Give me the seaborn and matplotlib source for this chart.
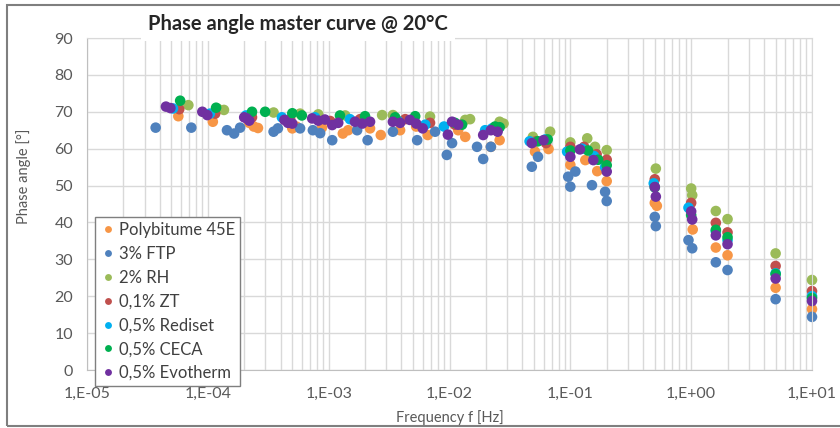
import numpy as np
import pandas as pd
import matplotlib
matplotlib.use("Agg")
import matplotlib.pyplot as plt
import seaborn as sns
from matplotlib.ticker import FuncFormatter, NullFormatter, LogLocator, MultipleLocator
from matplotlib.patches import Rectangle

# series names and colours (Excel style)
labels = ["Polybitume 45E", "3% FTP", "2% RH", "0,1% ZT",
          "0,5% Rediset", "0,5% CECA", "0,5% Evotherm"]
colors = ["#F79646", "#4F81BD", "#9BBB59", "#C0504D",
          "#00B0F0", "#00B050", "#7030A0"]
x_ticks = [1e-5, 1e-4, 1e-3, 1e-2, 1e-1, 1e0, 1e1]

# Polybitume 45E
pb_freq = [5.7e-5, 1.1e-4, 2.2e-4, 2.4e-4, 2.6e-4, 5.0e-4, 5.4e-4, 8.8e-4, 1.31e-3, 1.45e-3,
           2.2e-3, 2.7e-3, 3.9e-3, 5.3e-3, 6.6e-3, 1.18e-2, 1.35e-2, 2.2e-2, 2.6e-2, 0.051,
           0.066, 0.1, 0.133, 0.167, 0.2, 0.5, 0.52, 1.03, 1.6, 2.0, 5.0, 10.0]
pb_phase = [68.8, 67.3, 67.0, 66.0, 65.6, 65.5, 66.0, 65.7, 64.1, 65.0,
            65.5, 63.7, 65.0, 66.0, 63.7, 65.0, 63.2, 60.5, 62.3, 59.2,
            59.9, 55.6, 56.9, 53.9, 51.2, 45.3, 44.5, 38.1, 33.2, 31.1, 22.3, 16.5]

# 3% FTP
ftp_freq = [3.7e-5, 7.3e-5, 1.44e-4, 1.65e-4, 1.85e-4, 3.5e-4, 3.8e-4, 5.8e-4, 7.4e-4, 8.5e-4,
            1.07e-3, 1.72e-3, 2.1e-3, 3.4e-3, 5.4e-3, 7.6e-3, 9.5e-3, 1.05e-2, 1.69e-2, 1.9e-2,
            2.2e-2, 0.048, 0.054, 0.096, 0.1, 0.11, 0.151, 0.194, 0.2, 0.5,
            0.51, 0.95, 1.02, 1.6, 2.0, 5.0, 10.0]
ftp_phase = [65.7, 65.7, 65.0, 64.1, 65.7, 64.6, 65.5, 65.5, 65.0, 64.2,
             62.3, 65.0, 62.3, 64.6, 62.3, 64.6, 58.3, 61.5, 60.5, 57.2,
             60.5, 55.1, 57.8, 52.4, 49.7, 53.8, 50.1, 48.3, 45.8, 41.5,
             39.0, 35.2, 33.0, 29.2, 27.1, 19.2, 14.4]

# 2% RH
rh_freq = [6.9e-5, 1.21e-4, 1.36e-4, 2.3e-4, 3.5e-4, 5.8e-4, 8.2e-4, 1.37e-3, 2.77e-3, 3.4e-3,
           6.9e-3, 1.35e-2, 1.48e-2, 2.6e-2, 2.8e-2, 0.049, 0.068, 0.1, 0.138, 0.16,
           0.2, 0.51, 1.0, 1.02, 1.6, 2.0, 5.0, 10.0]
rh_phase = [71.8, 70.8, 70.5, 69.5, 69.8, 69.5, 69.3, 69.0, 69.1, 69.1,
            68.7, 67.8, 68.0, 67.3, 66.8, 63.2, 64.6, 61.7, 62.8, 60.5,
            59.6, 54.6, 49.2, 47.4, 43.1, 40.9, 31.6, 24.4]

# 0,1% ZT
zt_freq = [5.8e-5, 1.15e-4, 2.32e-4, 4.8e-4, 1.03e-3, 1.82e-3, 4.3e-3, 6.9e-3, 1.11e-2, 2.38e-2,
           0.052, 0.063, 0.1, 0.13, 0.165, 0.2, 0.5, 1.0, 1.6, 2.0, 5.0, 10.0]
zt_phase = [70.7, 69.5, 68.5, 68.0, 67.5, 68.0, 68.0, 67.0, 66.5, 65.5,
            62.0, 61.5, 60.5, 60.5, 58.5, 57.0, 51.7, 45.3, 39.9, 37.3, 28.2, 21.4]

# 0,5% Rediset
rd_freq = [5.15e-5, 1.04e-4, 2.07e-4, 4.1e-4, 7.7e-4, 1.5e-3, 3.75e-3, 6.3e-3, 9.0e-3, 1.97e-2,
           2.25e-2, 0.046, 0.062, 0.094, 0.125, 0.157, 0.194, 0.49, 0.95, 1.6, 2.0, 5.0, 10.0]
rd_phase = [70.9, 69.5, 69.0, 68.5, 68.5, 68.0, 67.5, 66.5, 66.0, 65.0,
            65.5, 62.0, 62.5, 59.2, 60.0, 58.0, 55.0, 50.6, 44.0, 37.6, 35.2, 26.2, 20.0]

# 0,5% CECA
ce_freq = [5.9e-5, 1.17e-4, 2.32e-4, 2.98e-4, 5.0e-4, 6.0e-4, 1.24e-3, 2.0e-3, 3.55e-3, 5.2e-3,
           1.11e-2, 1.27e-2, 2.38e-2, 2.6e-2, 0.054, 0.065, 0.1, 0.14, 0.17, 0.2,
           0.5, 1.0, 1.6, 2.0, 5.0, 10.0]
ce_phase = [73.0, 71.1, 70.0, 70.0, 69.6, 69.0, 69.0, 68.8, 68.5, 68.8,
            67.0, 66.5, 66.0, 65.8, 62.0, 62.5, 59.5, 59.5, 57.0, 55.5,
            49.5, 42.0, 38.0, 36.0, 26.0, 19.5]

# 0,5% Evotherm
ev_freq = [4.5e-5, 4.9e-5, 9.0e-5, 9.9e-5, 2.0e-4, 2.1e-4, 2.2e-4, 4.3e-4, 4.6e-4, 5.0e-4,
           7.3e-4, 8.2e-4, 9.3e-4, 1.07e-3, 1.2e-3, 1.65e-3, 1.9e-3, 2.2e-3, 3.4e-3, 3.9e-3,
           4.7e-3, 5.3e-3, 6.0e-3, 9.7e-3, 1.05e-2, 1.18e-2, 1.9e-2, 2.2e-2, 2.5e-2, 0.048,
           0.06, 0.1, 0.12, 0.155, 0.2, 0.5, 0.51, 1.0, 1.02, 1.6, 2.0, 5.0, 10.0]
ev_phase = [71.4, 71.0, 70.0, 69.1, 68.5, 68.2, 67.6, 67.8, 67.0, 66.8,
            68.2, 67.6, 67.9, 66.4, 67.0, 67.3, 66.8, 67.3, 67.3, 67.0,
            67.8, 66.8, 65.5, 63.8, 67.3, 66.5, 63.7, 65.0, 64.6, 61.5,
            62.3, 57.8, 59.8, 56.9, 53.8, 49.6, 47.0, 43.0, 40.8, 36.5, 34.1, 24.8, 18.7]

series = [(pb_freq, pb_phase), (ftp_freq, ftp_phase), (rh_freq, rh_phase), (zt_freq, zt_phase),
          (rd_freq, rd_phase), (ce_freq, ce_phase), (ev_freq, ev_phase)]

df = pd.concat([pd.DataFrame({"freq": f, "phase": p, "series": name})
                for name, (f, p) in zip(labels, series)], ignore_index=True)

sns.set_style("white")
plt.rcParams["font.family"] = ["Lato", "DejaVu Sans"]

fig, ax = plt.subplots(figsize=(8.4, 4.28), dpi=100)
fig.subplots_adjust(left=87 / 840, right=812 / 840, bottom=1 - 370 / 428, top=1 - 38 / 428)

sns.scatterplot(data=df, x="freq", y="phase", hue="series", hue_order=labels,
                palette=colors, s=58, linewidth=0, ax=ax)
for coll in ax.collections:
    coll.set_clip_on(False)

ax.set_xscale("log")
ax.set_xlim(1e-5, 1e1)
ax.set_ylim(0, 90)
ax.set_xticks(x_ticks)
ax.xaxis.set_minor_locator(LogLocator(base=10, subs=np.arange(2, 10), numticks=12))
ax.xaxis.set_minor_formatter(NullFormatter())
ax.xaxis.set_major_formatter(FuncFormatter(lambda v, pos: f"1,E{int(round(np.log10(v))):+03d}"))
ax.yaxis.set_major_locator(MultipleLocator(10))

ax.set_axisbelow(True)
ax.grid(which="both", axis="x", color="#D9D9D9", lw=1)
ax.grid(which="major", axis="y", color="#D9D9D9", lw=1)
for side in ["top", "right"]:
    ax.spines[side].set_color("#D9D9D9")
for side in ["left", "bottom"]:
    ax.spines[side].set_color("#BFBFBF")

ax.tick_params(which="both", length=0, labelsize=11.5, labelcolor="#595959")
ax.tick_params(axis="y", pad=10)
ax.tick_params(axis="x", pad=12)

ax.set_xlabel("Frequency f [Hz]", fontsize=10.5, color="#595959")
ax.set_ylabel("Phase angle [°]", fontsize=10.5, color="#595959")
ax.xaxis.set_label_coords(0.5, -0.12)
ax.yaxis.set_label_coords(-0.077, 0.584)

sns.move_legend(ax, "upper left", bbox_to_anchor=(95 / 840, 1 - 217 / 428),
                bbox_transform=fig.transFigure, title=None, frameon=True, fontsize=12,
                labelspacing=0.47, handletextpad=0.15, borderpad=0.3, markerscale=0.65,
                handlelength=1.0, fancybox=False, edgecolor="#7F7F7F", framealpha=1,
                borderaxespad=0)
leg = ax.get_legend()
leg.get_frame().set_linewidth(1)
leg.set_zorder(10)
for t in leg.get_texts():
    t.set_color("#404040")

fig.text(298 / 840, 1 - 24 / 428, "Phase angle master curve @ 20°C", ha="center", va="center",
         fontsize=14.5, fontweight="bold", color="#262626",
         bbox=dict(facecolor="white", edgecolor="none", pad=5))

fig.patches.append(Rectangle((7 / 840, 2 / 428), 840 / 840, 421 / 428, transform=fig.transFigure,
                             fill=False, edgecolor="#7F7F7F", lw=1.5))

fig.savefig("out.png", dpi=100)
